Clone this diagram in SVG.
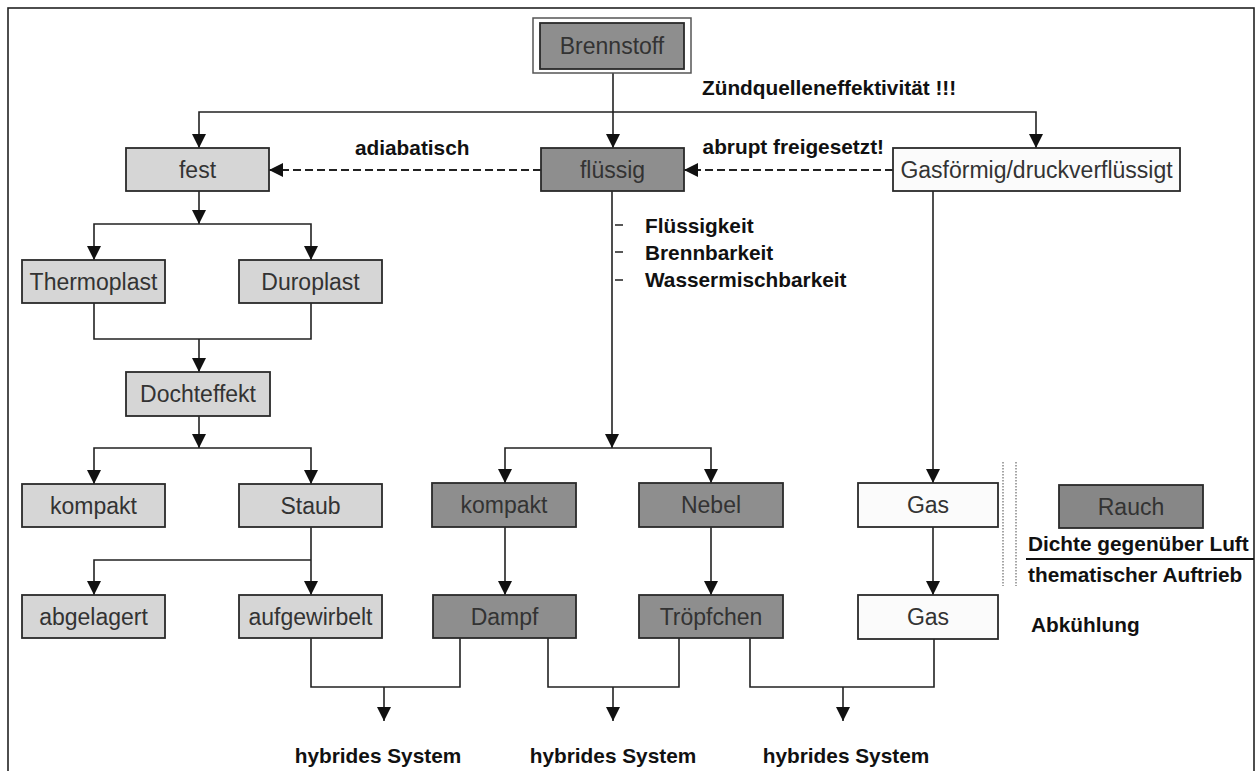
<svg xmlns="http://www.w3.org/2000/svg" width="1260" height="771" viewBox="0 0 1260 771">
<style>
.box{stroke:#2a2a2a;stroke-width:1.8}
.light{fill:#d6d6d6}
.dark{fill:#8e8e8e}
.white{fill:#fbfbfb}
.nt{font-family:"Liberation Sans",Arial,sans-serif;font-size:23px;fill:#333;text-anchor:middle}
.lb{font-family:"Liberation Sans",Arial,sans-serif;font-size:20.8px;font-weight:bold;fill:#111}
.c{fill:none;stroke:#222;stroke-width:1.6}
.a{marker-end:url(#arr)}
.d{stroke-dasharray:8,4;stroke-width:1.9}
</style>
<defs>
<marker id="arr" markerUnits="userSpaceOnUse" markerWidth="15" markerHeight="15" refX="14" refY="7" orient="auto">
<path d="M0,0 L14,7 L0,14 z" fill="#111"/>
</marker>
</defs>
<rect x="0" y="0" width="1260" height="771" fill="#fff"/>
<rect x="8" y="8" width="1246" height="780" fill="none" stroke="#222" stroke-width="1.6"/>

<g id="connectors">
<path class="c a" d="M613,73 V148"/>
<path class="c a" d="M613,112 H199 V148"/>
<path class="c a" d="M613,112 H1036 V148"/>
<path class="c a d" d="M893,170 H684"/>
<path class="c a d" d="M541,170 H269"/>
<path class="c a" d="M199,191 V224"/>
<path class="c a" d="M199,224 H94 V260"/>
<path class="c a" d="M199,224 H311 V260"/>
<path class="c" d="M94,303 V339 H311 V303"/>
<path class="c a" d="M199,339 V372"/>
<path class="c a" d="M199,416 V448"/>
<path class="c a" d="M199,448 H94 V484"/>
<path class="c a" d="M199,448 H311 V484"/>
<path class="c a" d="M311,527 V595"/>
<path class="c a" d="M311,560 H94 V595"/>
<path class="c a" d="M612,191 V448"/>
<path class="c a" d="M612,448 H505 V483"/>
<path class="c a" d="M612,448 H711 V483"/>
<path class="c a" d="M505,527 V595"/>
<path class="c a" d="M711,527 V595"/>
<path class="c a" d="M933,191 V483"/>
<path class="c a" d="M933,527 V595"/>
<path class="c" d="M311,638 V687 H460 V638"/>
<path class="c a" d="M384,687 V721"/>
<path class="c" d="M548,638 V687 H679 V638"/>
<path class="c a" d="M613,687 V721"/>
<path class="c" d="M750,638 V687 H934 V639"/>
<path class="c a" d="M843,687 V721"/>
<path class="c" d="M615,225 H623 M615,252 H623 M615,280 H623" stroke-width="1.2"/>
<path d="M1003,462 V586 M1016,462 V586" fill="none" stroke="#888" stroke-width="1.5" stroke-dasharray="1.5,1.5"/>
<path d="M1026,559 H1254" fill="none" stroke="#111" stroke-width="2"/>
</g>

<g id="brennstoff">
<rect x="533" y="18" width="158" height="55" fill="#fff" stroke="#555" stroke-width="1.5"/>
<rect class="box dark" x="540" y="23" width="144" height="46"/>
<text class="nt" x="612" y="54">Brennstoff</text>
</g>
<g id="fest"><rect class="box light" x="126" y="148" width="143" height="43"/><text class="nt" x="197.5" y="178">fest</text></g>
<g id="fluessig"><rect class="box dark" x="541" y="148" width="143" height="43"/><text class="nt" x="612.5" y="178">flüssig</text></g>
<g id="gasfoermig"><rect class="box white" x="893" y="148" width="287" height="43"/><text class="nt" x="1036.5" y="178">Gasförmig/druckverflüssigt</text></g>
<g id="thermoplast"><rect class="box light" x="22" y="260" width="143" height="43"/><text class="nt" x="93.5" y="290">Thermoplast</text></g>
<g id="duroplast"><rect class="box light" x="239" y="260" width="143" height="43"/><text class="nt" x="310.5" y="290">Duroplast</text></g>
<g id="dochteffekt"><rect class="box light" x="126" y="372" width="144" height="44"/><text class="nt" x="198" y="402">Dochteffekt</text></g>
<g id="kompakt-fest"><rect class="box light" x="22" y="484" width="143" height="43"/><text class="nt" x="93.5" y="514">kompakt</text></g>
<g id="staub"><rect class="box light" x="239" y="484" width="143" height="43"/><text class="nt" x="310.5" y="514">Staub</text></g>
<g id="kompakt-fluessig"><rect class="box dark" x="432" y="483" width="144" height="44"/><text class="nt" x="504" y="513">kompakt</text></g>
<g id="nebel"><rect class="box dark" x="639" y="483" width="144" height="44"/><text class="nt" x="711" y="513">Nebel</text></g>
<g id="gas1"><rect class="box white" x="858" y="483" width="140" height="44"/><text class="nt" x="928" y="513">Gas</text></g>
<g id="rauch"><rect class="box" fill="#878787" x="1059" y="485" width="144" height="43"/><text class="nt" x="1131" y="515">Rauch</text></g>
<g id="abgelagert"><rect class="box light" x="22" y="595" width="143" height="43"/><text class="nt" x="93.5" y="625">abgelagert</text></g>
<g id="aufgewirbelt"><rect class="box light" x="239" y="595" width="143" height="43"/><text class="nt" x="310.5" y="625">aufgewirbelt</text></g>
<g id="dampf"><rect class="box dark" x="433" y="595" width="143" height="43"/><text class="nt" x="504.5" y="625">Dampf</text></g>
<g id="troepfchen"><rect class="box dark" x="639" y="595" width="144" height="43"/><text class="nt" x="711" y="625">Tröpfchen</text></g>
<g id="gas2"><rect class="box white" x="858" y="595" width="140" height="44"/><text class="nt" x="928" y="625">Gas</text></g>

<g id="labels">
<text class="lb" x="702" y="95">Zündquelleneffektivität !!!</text>
<text class="lb" x="355" y="155">adiabatisch</text>
<text class="lb" x="884" y="154" text-anchor="end">abrupt freigesetzt!</text>
<text class="lb" x="645" y="233">Flüssigkeit</text>
<text class="lb" x="645" y="260">Brennbarkeit</text>
<text class="lb" x="645" y="287">Wassermischbarkeit</text>
<text class="lb" x="1028" y="551">Dichte gegenüber Luft</text>
<text class="lb" x="1028" y="582">thematischer Auftrieb</text>
<text class="lb" x="1031" y="632">Abkühlung</text>
<text class="lb" x="378" y="763" text-anchor="middle">hybrides System</text>
<text class="lb" x="613" y="763" text-anchor="middle">hybrides System</text>
<text class="lb" x="846" y="763" text-anchor="middle">hybrides System</text>
</g>
</svg>
